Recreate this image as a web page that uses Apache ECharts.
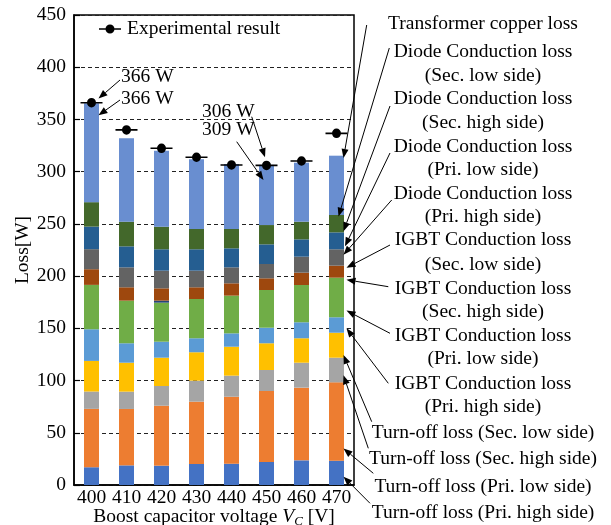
<!DOCTYPE html>
<html><head><meta charset="utf-8">
<script src="https://cdn.jsdelivr.net/npm/echarts@6/dist/echarts.min.js"></script>
<style>html,body{margin:0;padding:0;background:#fff}#c{width:611px;height:525px}</style>
</head><body><div id="c"></div>
<script>
// ---- data (bottom of stack to top) ----
const categories = ['400','410','420','430','440','450','460','470'];
const turnoffPriHigh   = [17.0, 18.8, 18.5, 20.1, 20.4, 22.0, 23.6, 23.3];
const turnoffPriLow    = [55.9, 54.0, 57.4, 59.7, 64.1, 68.0, 69.6, 75.0];
const turnoffSecHigh   = [16.6, 16.6, 18.9, 20.1, 20.2, 20.1, 23.9, 23.6];
const turnoffSecLow    = [29.3, 27.7, 27.1, 27.2, 27.7, 25.6, 23.4, 23.9];
const igbtPriHigh      = [30.3, 18.6, 15.3, 13.4, 12.8, 14.9, 15.3, 14.8];
const igbtPriLow       = [42.5, 40.8, 37.4, 37.6, 36.1, 36.1, 35.7, 37.9];
const igbtSecHigh      = [0, 0, 1.9, 0, 0, 0, 0, 0];
const igbtSecLow       = [15.0, 12.8, 11.8, 11.2, 11.8, 11.2, 11.8, 11.5];
const diodePriHigh     = [19.2, 19.1, 16.9, 15.9, 15.3, 13.7, 15.3, 15.7];
const diodePriLow      = [0, 0, 0, 0, 0, 0, 0, 0];
const diodeSecHigh     = [21.6, 20.1, 20.5, 20.5, 18.2, 18.8, 16.6, 16.2];
const diodeSecLow      = [23.4, 23.6, 21.6, 19.4, 18.5, 18.5, 16.9, 16.6];
const transformerCu    = [94.8, 79.9, 72.7, 66.7, 62.2, 57.6, 56.5, 56.8];
const experimental     = [366, 340, 322.4, 313.8, 306.4, 306, 310.2, 336.7];

const seriesNames = [
  'Turn-off loss (Pri. high side)','Turn-off loss (Pri. low side)',
  'Turn-off loss (Sec. high side)','Turn-off loss (Sec. low side)',
  'IGBT Conduction loss (Pri. high side)','IGBT Conduction loss (Pri. low side)',
  'IGBT Conduction loss (Sec. high side)','IGBT Conduction loss (Sec. low side)',
  'Diode Conduction loss (Pri. high side)','Diode Conduction loss (Pri. low side)',
  'Diode Conduction loss (Sec. high side)','Diode Conduction loss (Sec. low side)',
  'Transformer copper loss'];
const seriesData = [turnoffPriHigh, turnoffPriLow, turnoffSecHigh, turnoffSecLow,
  igbtPriHigh, igbtPriLow, igbtSecHigh, igbtSecLow, diodePriHigh, diodePriLow,
  diodeSecHigh, diodeSecLow, transformerCu];
const seriesColors = ['#4472C4','#ED7D31','#A5A5A5','#FFC000','#5B9BD5','#70AD47',
  '#264478','#9E480E','#636363','#997300','#255E91','#43682B','#698ED0'];

const SERIF = '"Liberation Serif", "Times New Roman", serif';
const FS = 19.5;
const markerPath = 'path://M0,4.2 L22,4.2 L22,5.8 L0,5.8 Z M15.5,5 A4.5,4.5 0 1 1 6.5,5 A4.5,4.5 0 1 1 15.5,5 Z';

const series = seriesData.map((d, i) => ({
  name: seriesNames[i], type: 'bar', stack: 'total', data: d,
  barWidth: 15, itemStyle: { color: seriesColors[i] }, emphasis: { disabled: true }
}));
series.push({
  name: 'Experimental result', type: 'scatter', data: experimental,
  symbol: markerPath, symbolSize: [22, 9.5], itemStyle: { color: '#000', opacity: 1 }, z: 5
});

const chart = echarts.init(document.getElementById('c'), null, { renderer: 'canvas' });
chart.setOption({
  animation: false,
  backgroundColor: '#fff',
  grid: { left: 74, right: 257, top: 15, bottom: 40, show: true, borderColor: '#000', borderWidth: 1.5,
          containLabel: false, outerBoundsMode: 'none' },
  legend: {
    data: [{ name: 'Experimental result', icon: markerPath, itemStyle: { color: '#000', opacity: 1 } }],
    left: 94, top: 14, itemWidth: 24, itemHeight: 9,
    textStyle: { fontFamily: SERIF, fontSize: FS, color: '#000' }
  },
  xAxis: {
    type: 'category', data: categories,
    axisLine: { lineStyle: { color: '#000', width: 1.5 } },
    axisTick: { show: false },
    axisLabel: { fontFamily: SERIF, fontSize: FS, color: '#000', margin: 3, interval: 0, hideOverlap: false },
    name: '{a|Boost capacitor voltage }{i|V}{s|C}{a| [V]}',
    nameLocation: 'middle', nameGap: 21, nameMoveOverlap: false,
    nameTextStyle: {
      rich: {
        a: { fontFamily: SERIF, fontSize: FS, color: '#000', lineHeight: 22, verticalAlign: 'middle' },
        i: { fontFamily: SERIF, fontSize: FS, fontStyle: 'italic', color: '#000', lineHeight: 22, verticalAlign: 'middle' },
        s: { fontFamily: SERIF, fontSize: 13, fontStyle: 'italic', color: '#000', lineHeight: 13, verticalAlign: 'bottom' }
      }
    }
  },
  yAxis: {
    type: 'value', min: 0, max: 450, interval: 50,
    axisLine: { show: true, lineStyle: { color: '#000', width: 1.5 } },
    axisTick: { show: true, inside: true, length: 6, lineStyle: { color: '#000', width: 1.2 } },
    axisLabel: { fontFamily: SERIF, fontSize: FS, color: '#000', margin: 8 },
    splitLine: { lineStyle: { color: '#222', type: [4, 3], width: 1 } },
    name: 'Loss[W]', nameLocation: 'middle', nameGap: 41, nameMoveOverlap: false,
    nameTextStyle: { fontFamily: SERIF, fontSize: FS, color: '#000' }
  },
  series: series
});

// ---- annotations ----
const annoFont = FS + 'px ' + SERIF;
const texts = [
  ['Transformer copper loss', 24], ['Diode Conduction loss', 52.3], ['(Sec. low side)', 76],
  ['Diode Conduction loss', 99.3], ['(Sec. high side)', 122.7],
  ['Diode Conduction loss', 146.7], ['(Pri. low side)', 170],
  ['Diode Conduction loss', 194], ['(Pri. high side)', 217.3],
  ['IGBT Conduction loss', 240], ['(Sec. low side)', 265],
  ['IGBT Conduction loss', 289.3], ['(Sec. high side)', 311.7],
  ['IGBT Conduction loss', 336], ['(Pri. low side)', 359.3],
  ['IGBT Conduction loss', 384], ['(Pri. high side)', 406.7],
  ['Turn-off loss (Sec. low side)', 432.7], ['Turn-off loss (Sec. high side)', 459.3],
  ['Turn-off loss (Pri. low side)', 486.7], ['Turn-off loss (Pri. high side)', 513.3]
];
// [startX, startY, categoryIndex, value, dx]
const arrows = [
  [366.7, 25, 7, 313, 7], [389.3, 48, 7, 257, 2], [390, 106, 7, 243, 7],
  [390, 153, 7, 228.5, 8.5], [391.7, 200, 7, 220.5, 7], [390, 245, 7, 208, 10],
  [388.3, 286.7, 7, 196.5, 10], [390, 333.3, 7, 167, 10], [388.3, 383.3, 7, 150, 10],
  [371.7, 421.7, 7, 124.5, 7], [368.3, 448.3, 7, 105, 7], [373.3, 473.3, 7, 35, 7],
  [370, 503.3, 7, 8, 7],
  [120, 80, 0, 370, 7], [120, 100, 0, 354, 7], [251.7, 116.7, 5, 313.8, -1.5], [236.7, 141.7, 5, 292, -3]
];
const valueLabels = [['366 W', 121, 77], ['366 W', 121, 99], ['306 W', 202, 111.7], ['309 W', 202, 129.5]];

const els = [];
texts.forEach(t => els.push({ type: 'text', x: 483, y: t[1], z: 10,
  style: { text: t[0], font: annoFont, fill: '#000', align: 'center', verticalAlign: 'middle', textAlign: 'center', textVerticalAlign: 'middle' } }));
valueLabels.forEach(t => els.push({ type: 'text', x: t[1], y: t[2], z: 10,
  style: { text: t[0], font: annoFont, fill: '#000', align: 'left', verticalAlign: 'middle', textAlign: 'left', textVerticalAlign: 'middle' } }));
arrows.forEach(a => {
  const p = chart.convertToPixel({ gridIndex: 0 }, [a[2], a[3]]);
  const x2 = p[0] + a[4], y2 = p[1], x1 = a[0], y1 = a[1];
  const dx = x2 - x1, dy = y2 - y1, L = Math.sqrt(dx*dx + dy*dy);
  const ux = dx / L, uy = dy / L, hl = 9, hw = 3.5;
  const bx = x2 - ux*hl, by = y2 - uy*hl;
  els.push({ type: 'line', z: 10, shape: { x1: x1, y1: y1, x2: bx, y2: by }, style: { stroke: '#000', lineWidth: 1 } });
  els.push({ type: 'polygon', z: 10, shape: { points: [[x2, y2], [bx - uy*hw, by + ux*hw], [bx + uy*hw, by - ux*hw]] }, style: { fill: '#000' } });
});
chart.setOption({ graphic: { elements: els } });
</script>
</body></html>
